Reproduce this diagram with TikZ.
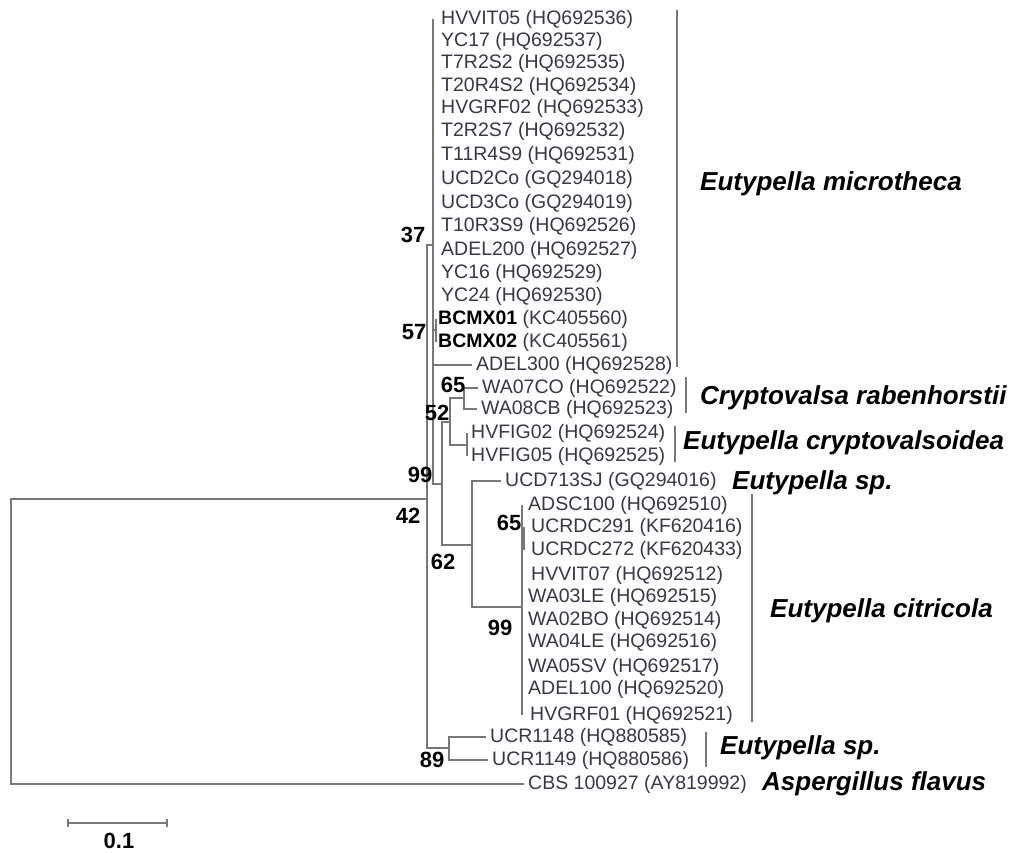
\documentclass[tikz,border=0pt]{standalone}
\usepackage{fontspec}
\setmainfont{Liberation Sans}
\definecolor{brc}{RGB}{120,120,120}
\definecolor{ltc}{RGB}{55,55,70}
\tikzset{
  br/.style={draw=brc, line width=2.1pt},
  leaf/.style={anchor=west, inner xsep=4pt, inner ysep=0pt, text=ltc, font=\fontsize{19.5}{20}\selectfont},
  boot/.style={inner sep=0pt, text=black, font=\bfseries\fontsize{22}{22}\selectfont},
  clade/.style={anchor=west, inner sep=0pt, text=black, font=\bfseries\itshape\fontsize{26}{26}\selectfont},
  bar/.style={draw=brc, line width=2.1pt},
}
\begin{document}
\begin{tikzpicture}[x=1pt,y=-1pt]
\useasboundingbox (0,0) rectangle (1016,852);
% ---------- leaves ----------
\node[leaf] (m1)  at (437,19)  {HVVIT05 (HQ692536)};
\node[leaf] (m2)  at (437,41)  {YC17 (HQ692537)};
\node[leaf] (m3)  at (437,63)  {T7R2S2 (HQ692535)};
\node[leaf] (m4)  at (437,86)  {T20R4S2 (HQ692534)};
\node[leaf] (m5)  at (437,108) {HVGRF02 (HQ692533)};
\node[leaf] (m6)  at (437,131) {T2R2S7 (HQ692532)};
\node[leaf] (m7)  at (437,155) {T11R4S9 (HQ692531)};
\node[leaf] (m8)  at (437,179) {UCD2Co (GQ294018)};
\node[leaf] (m9)  at (437,203) {UCD3Co (GQ294019)};
\node[leaf] (m10) at (437,226) {T10R3S9 (HQ692526)};
\node[leaf] (m11) at (437,250) {ADEL200 (HQ692527)};
\node[leaf] (m12) at (437,273) {YC16 (HQ692529)};
\node[leaf] (m13) at (437,296) {YC24 (HQ692530)};
\node[leaf] (m14) at (434,319) {\textbf{\color{black}BCMX01} (KC405560)};
\node[leaf] (m15) at (434,342) {\textbf{\color{black}BCMX02} (KC405561)};
\node[leaf] (m16) at (472,365) {ADEL300 (HQ692528)};
\node[leaf] (c1)  at (478,388) {WA07CO (HQ692522)};
\node[leaf] (c2)  at (477,409) {WA08CB (HQ692523)};
\node[leaf] (f1)  at (467,433) {HVFIG02 (HQ692524)};
\node[leaf] (f2)  at (467,456) {HVFIG05 (HQ692525)};
\node[leaf] (s1)  at (501,481) {UCD713SJ (GQ294016)};
\node[leaf] (e1)  at (524,505) {ADSC100 (HQ692510)};
\node[leaf] (e2)  at (527,527) {UCRDC291 (KF620416)};
\node[leaf] (e3)  at (527,550) {UCRDC272 (KF620433)};
\node[leaf] (e4)  at (527,575) {HVVIT07 (HQ692512)};
\node[leaf] (e5)  at (524,597) {WA03LE (HQ692515)};
\node[leaf] (e6)  at (524,620) {WA02BO (HQ692514)};
\node[leaf] (e7)  at (524,642) {WA04LE (HQ692516)};
\node[leaf] (e8)  at (524,667) {WA05SV (HQ692517)};
\node[leaf] (e9)  at (524,689) {ADEL100 (HQ692520)};
\node[leaf] (e10) at (526,715) {HVGRF01 (HQ692521)};
\node[leaf] (u1)  at (486,737) {UCR1148 (HQ880585)};
\node[leaf] (u2)  at (488,760) {UCR1149 (HQ880586)};
\node[leaf] (cbs) at (524,784) {CBS 100927 (AY819992)};
% ---------- internal nodes ----------
\coordinate (n37)  at (433,245);
\coordinate (n57)  at (436,330);
\coordinate (n99a) at (442,484);
\coordinate (n52)  at (450,422);
\coordinate (n65a) at (464,398);
\coordinate (nfig) at (467,445);
\coordinate (n62)  at (472,545);
\coordinate (ncit) at (522,607);
\coordinate (n65b) at (524,538);
\coordinate (n89)  at (449,748);
\coordinate (n42)  at (427,499);
\coordinate (root) at (11,641);
% ---------- branches ----------
\draw[br] (root) |- (n42);
\draw[br] (root) |- (cbs.west);
\draw[br] (n42) |- (n37);
\draw[br] (n42) |- (n89);
\draw[br] (n37) -- (n37 |- m1.west);
\draw[br] (n37) |- (n99a);
\draw[br] (n37) |- (m16.west);
\draw[br] (n37) |- (n57);
\draw[br] (n57) -- (n57 |- m14.west);
\draw[br] (n57) -- (n57 |- m15.west);
\draw[br] (n99a) |- (n52);
\draw[br] (n99a) |- (n62);
\draw[br] (n52) |- (n65a);
\draw[br] (n52) |- (nfig);
\draw[br] (n65a) |- (c1.west);
\draw[br] (n65a) |- (c2.west);
\draw[br] (nfig) -- (nfig |- f1.west);
\draw[br] (nfig) -- (nfig |- f2.west);
\draw[br] (n62) |- (s1.west);
\draw[br] (n62) |- (ncit);
\draw[br] (ncit) -- (ncit |- e1.west);
\draw[br] (ncit) -- (ncit |- e10.west);
\draw[br] (n65b) -- (n65b |- e2.west);
\draw[br] (n65b) -- (n65b |- e3.west);
\draw[br] (n89) |- (u1.west);
\draw[br] (n89) |- (u2.west);
% ---------- bootstrap values ----------
\node[boot] (b37)  at (413,235) {37};
\node[boot] (b57)  at (414,332) {57};
\node[boot] (b65a) at (453,385) {65};
\node[boot] (b52)  at (437,413) {52};
\node[boot] (b99a) at (420,475) {99};
\node[boot] (b42)  at (408,516) {42};
\node[boot] (b62)  at (443,562) {62};
\node[boot] (b65b) at (509,523) {65};
\node[boot] (b99b) at (500,628) {99};
\node[boot] (b89)  at (432,760) {89};
% ---------- clade bars and names ----------
\coordinate (k1a) at (677,10);  \coordinate (k1b) at (677,367);
\coordinate (k2a) at (686,377); \coordinate (k2b) at (686,413);
\coordinate (k3a) at (675,426); \coordinate (k3b) at (675,462);
\coordinate (k5a) at (752,494); \coordinate (k5b) at (752,722);
\coordinate (k6a) at (706,732); \coordinate (k6b) at (706,767);
\draw[bar] (k1a) -- (k1b);
\draw[bar] (k2a) -- (k2b);
\draw[bar] (k3a) -- (k3b);
\draw[bar] (k5a) -- (k5b);
\draw[bar] (k6a) -- (k6b);
\node[clade] (g1) at (700,184) {Eutypella microtheca};
\node[clade] (g2) at (700,398) {Cryptovalsa rabenhorstii};
\node[clade] (g3) at (683,443) {Eutypella cryptovalsoidea};
\node[clade] (g4) at (732,483) {Eutypella sp.};
\node[clade] (g5) at (770,611) {Eutypella citricola};
\node[clade] (g6) at (720,748) {Eutypella sp.};
\node[clade] (g7) at (762,784) {Aspergillus flavus};
% ---------- scale bar ----------
\coordinate (sb1) at (68,823);
\coordinate (sb2) at (167,823);
\draw[bar] (sb1) -- (sb2);
\draw[bar] ([yshift=4pt]sb1) -- ([yshift=-4pt]sb1);
\draw[bar] ([yshift=4pt]sb2) -- ([yshift=-4pt]sb2);
\node[boot] (sbl) at (119,841) {0.1};
\end{tikzpicture}
\end{document}
